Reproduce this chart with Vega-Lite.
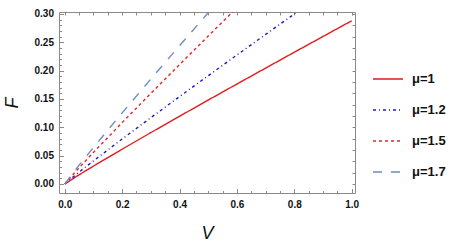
{
 "$schema": "https://vega.github.io/schema/vega-lite/v6.json",
 "width": 296, "height": 181,
 "autosize": {"type": "none"},
 "padding": {"left": 59, "top": 12, "right": 117, "bottom": 58},
 "config": {
  "view": {"stroke": "#8a8a8a", "strokeWidth": 1},
  "axis": {"domain": false, "grid": false, "tickColor": "#8a8a8a", "labelFont": "Liberation Sans", "labelFontWeight": "bold", "labelFontSize": 10, "labelColor": "#111", "titleFont": "Liberation Sans", "titleFontStyle": "italic", "titleFontWeight": "normal", "titleFontSize": 18, "titleColor": "#111"}
 },
 "datasets": {
  "d": [
   {"V": 0, "F": 0, "mu": "μ=1"}, {"V": 0.05, "F": 0.0162, "mu": "μ=1"}, {"V": 0.1, "F": 0.0316, "mu": "μ=1"}, {"V": 0.2, "F": 0.0614, "mu": "μ=1"}, {"V": 0.3, "F": 0.0907, "mu": "μ=1"}, {"V": 0.4, "F": 0.1195, "mu": "μ=1"}, {"V": 0.5, "F": 0.1481, "mu": "μ=1"}, {"V": 0.6, "F": 0.1764, "mu": "μ=1"}, {"V": 0.7, "F": 0.2045, "mu": "μ=1"}, {"V": 0.8, "F": 0.2325, "mu": "μ=1"}, {"V": 0.9, "F": 0.2603, "mu": "μ=1"}, {"V": 1.0, "F": 0.288, "mu": "μ=1"},
   {"V": 0, "F": 0, "mu": "μ=1.2"}, {"V": 0.05, "F": 0.021, "mu": "μ=1.2"}, {"V": 0.1, "F": 0.0407, "mu": "μ=1.2"}, {"V": 0.2, "F": 0.0793, "mu": "μ=1.2"}, {"V": 0.3, "F": 0.117, "mu": "μ=1.2"}, {"V": 0.4, "F": 0.1543, "mu": "μ=1.2"}, {"V": 0.5, "F": 0.1911, "mu": "μ=1.2"}, {"V": 0.6, "F": 0.2276, "mu": "μ=1.2"}, {"V": 0.7, "F": 0.2639, "mu": "μ=1.2"}, {"V": 0.8, "F": 0.3, "mu": "μ=1.2"}, {"V": 0.9, "F": 0.336, "mu": "μ=1.2"},
   {"V": 0, "F": 0, "mu": "μ=1.5"}, {"V": 0.05, "F": 0.0286, "mu": "μ=1.5"}, {"V": 0.1, "F": 0.0557, "mu": "μ=1.5"}, {"V": 0.2, "F": 0.1083, "mu": "μ=1.5"}, {"V": 0.3, "F": 0.1599, "mu": "μ=1.5"}, {"V": 0.4, "F": 0.2107, "mu": "μ=1.5"}, {"V": 0.5, "F": 0.2611, "mu": "μ=1.5"}, {"V": 0.6, "F": 0.311, "mu": "μ=1.5"},
   {"V": 0, "F": 0, "mu": "μ=1.7"}, {"V": 0.05, "F": 0.0332, "mu": "μ=1.7"}, {"V": 0.1, "F": 0.0644, "mu": "μ=1.7"}, {"V": 0.2, "F": 0.1254, "mu": "μ=1.7"}, {"V": 0.3, "F": 0.1851, "mu": "μ=1.7"}, {"V": 0.4, "F": 0.244, "mu": "μ=1.7"}, {"V": 0.5, "F": 0.3023, "mu": "μ=1.7"}, {"V": 0.6, "F": 0.36, "mu": "μ=1.7"}
  ]
 },
 "layer": [
  {
   "data": {"name": "d"},
   "mark": {"type": "line", "strokeWidth": 1.4, "clip": true},
   "encoding": {
    "x": {"field": "V", "type": "quantitative", "scale": {"domain": [-0.02, 1.0115], "nice": false, "zero": false},
          "axis": {"orient": "bottom", "values": [0, 0.2, 0.4, 0.6, 0.8, 1], "format": ".1f", "tickSize": -4.5, "labelPadding": 11, "title": "V", "titlePadding": 15}},
    "y": {"field": "F", "type": "quantitative", "scale": {"domain": [-0.0159, 0.3035], "nice": false, "zero": false},
          "axis": {"orient": "left", "values": [0, 0.05, 0.1, 0.15, 0.2, 0.25, 0.3], "format": ".2f", "tickSize": -4.5, "labelPadding": 10, "title": "F", "titlePadding": 13}},
    "color": {"field": "mu", "type": "nominal", "scale": {"domain": ["μ=1", "μ=1.2", "μ=1.5", "μ=1.7"], "range": ["#e31a1c", "#1a1ac8", "#e3262a", "#6b8cc4"]},
              "legend": {"title": null, "orient": "none", "legendX": 313, "legendY": 51, "symbolType": "stroke", "symbolSize": 900, "symbolStrokeWidth": 1.6, "labelFont": "Liberation Sans", "labelFontWeight": "bold", "labelFontSize": 13, "labelColor": "#111", "rowPadding": 8, "labelOffset": 8}},
    "strokeDash": {"field": "mu", "type": "nominal", "scale": {"domain": ["μ=1", "μ=1.2", "μ=1.5", "μ=1.7"], "range": [[1, 0], [3, 3, 1, 3], [3, 3], [9, 9]]},
              "legend": {"title": null, "orient": "none", "legendX": 313, "legendY": 51, "symbolType": "stroke", "symbolSize": 900, "symbolStrokeWidth": 1.6, "labelFont": "Liberation Sans", "labelFontWeight": "bold", "labelFontSize": 13, "labelColor": "#111", "rowPadding": 8, "labelOffset": 8}}
   }
  },
  {
   "data": {"name": "d"},
   "mark": {"type": "point", "opacity": 0},
   "encoding": {
    "x": {"field": "V", "type": "quantitative", "axis": {"orient": "bottom", "values": [0.05, 0.1, 0.15, 0.25, 0.3, 0.35, 0.45, 0.5, 0.55, 0.65, 0.7, 0.75, 0.85, 0.9, 0.95], "labels": false, "tickSize": -2.5, "title": null}},
    "y": {"field": "F", "type": "quantitative", "axis": {"orient": "left", "values": [0.01, 0.02, 0.03, 0.04, 0.06, 0.07, 0.08, 0.09, 0.11, 0.12, 0.13, 0.14, 0.16, 0.17, 0.18, 0.19, 0.21, 0.22, 0.23, 0.24, 0.26, 0.27, 0.28, 0.29], "labels": false, "tickSize": -2.5, "title": null}}
   }
  },
  {
   "data": {"name": "d"},
   "mark": {"type": "point", "opacity": 0},
   "encoding": {
    "x": {"field": "V", "type": "quantitative", "axis": {"orient": "top", "values": [0, 0.05, 0.1, 0.15, 0.2, 0.25, 0.3, 0.35, 0.4, 0.45, 0.5, 0.55, 0.6, 0.65, 0.7, 0.75, 0.8, 0.85, 0.9, 0.95, 1], "labels": false, "tickSize": -3, "title": null}},
    "y": {"field": "F", "type": "quantitative", "axis": {"orient": "right", "values": [0, 0.02, 0.04, 0.06, 0.08, 0.1, 0.12, 0.14, 0.16, 0.18, 0.2, 0.22, 0.24, 0.26, 0.28, 0.3], "labels": false, "tickSize": -3, "title": null}}
   }
  }
 ],
 "resolve": {"axis": {"x": "independent", "y": "independent"}}
}
